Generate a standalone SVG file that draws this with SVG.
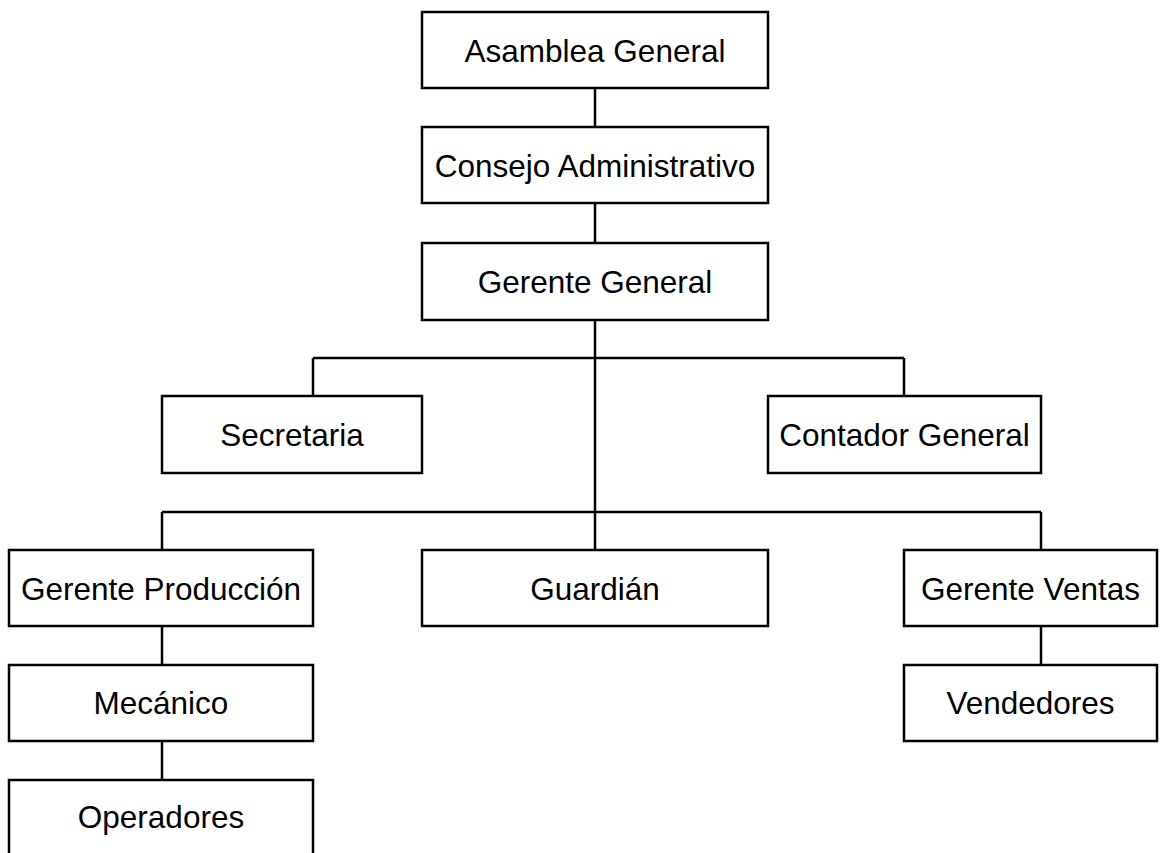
<svg xmlns="http://www.w3.org/2000/svg" width="1160" height="853" viewBox="0 0 1160 853">
<style>
.box{fill:#fff;stroke:#000;stroke-width:2.5}
.lbl{font-family:"Liberation Sans",Arial,sans-serif;font-size:31.5px;fill:#000;text-anchor:middle}
.con{fill:none;stroke:#000;stroke-width:2.5}
</style>
<rect width="1160" height="853" fill="#fff"/>
<g id="connectors">
<path class="con" d="M595 88V127M595 203V243M595 320V550M313 358H904M313 358V396M904 358V396M162 512H1041M162 512V550M1041 512V550M162 626V665M162 741V780M1041 626V665"/>
</g>
<g id="asamblea"><rect class="box" x="422" y="12" width="346" height="76"/><text class="lbl" x="595" y="62">Asamblea General</text></g>
<g id="consejo"><rect class="box" x="422" y="127" width="346" height="76"/><text class="lbl" x="595" y="177">Consejo Administrativo</text></g>
<g id="gerente-general"><rect class="box" x="422" y="243" width="346" height="77"/><text class="lbl" x="595" y="293">Gerente General</text></g>
<g id="secretaria"><rect class="box" x="162" y="396" width="260" height="77"/><text class="lbl" x="292" y="446">Secretaria</text></g>
<g id="contador"><rect class="box" x="768" y="396" width="273" height="77"/><text class="lbl" x="904.5" y="446">Contador General</text></g>
<g id="gerente-produccion"><rect class="box" x="9" y="550" width="304" height="76"/><text class="lbl" x="161" y="600">Gerente Producción</text></g>
<g id="guardian"><rect class="box" x="422" y="550" width="346" height="76"/><text class="lbl" x="595" y="600">Guardián</text></g>
<g id="gerente-ventas"><rect class="box" x="904" y="550" width="253" height="76"/><text class="lbl" x="1030.5" y="600">Gerente Ventas</text></g>
<g id="mecanico"><rect class="box" x="9" y="665" width="304" height="76"/><text class="lbl" x="161" y="714">Mecánico</text></g>
<g id="vendedores"><rect class="box" x="904" y="665" width="253" height="76"/><text class="lbl" x="1030.5" y="714">Vendedores</text></g>
<g id="operadores"><rect class="box" x="9" y="780" width="304" height="76"/><text class="lbl" x="161" y="828">Operadores</text></g>
</svg>
